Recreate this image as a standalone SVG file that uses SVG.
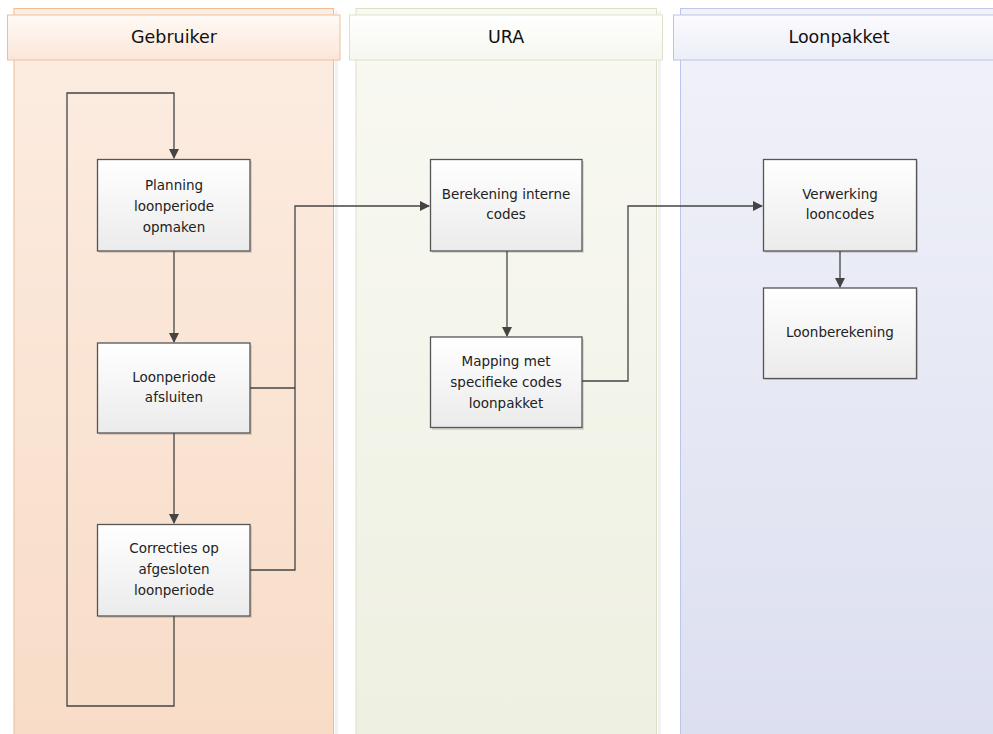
<svg xmlns="http://www.w3.org/2000/svg" width="993" height="734" viewBox="0 0 993 734">
<defs>
<linearGradient id="g1" x1="0" y1="0" x2="0" y2="1"><stop offset="0" stop-color="#fcede2"/><stop offset="1" stop-color="#f8dcc7"/></linearGradient>
<linearGradient id="g2" x1="0" y1="0" x2="0" y2="1"><stop offset="0" stop-color="#f9f9f3"/><stop offset="1" stop-color="#eef0e1"/></linearGradient>
<linearGradient id="g3" x1="0" y1="0" x2="0" y2="1"><stop offset="0" stop-color="#f1f2f9"/><stop offset="1" stop-color="#dcdff0"/></linearGradient>
<linearGradient id="h1" x1="0" y1="0" x2="0" y2="1"><stop offset="0" stop-color="#fffaf6"/><stop offset="1" stop-color="#fbe6d8"/></linearGradient>
<linearGradient id="h2" x1="0" y1="0" x2="0" y2="1"><stop offset="0" stop-color="#ffffff"/><stop offset="1" stop-color="#f6f7ef"/></linearGradient>
<linearGradient id="h3" x1="0" y1="0" x2="0" y2="1"><stop offset="0" stop-color="#fbfbfe"/><stop offset="1" stop-color="#eceef8"/></linearGradient>
<linearGradient id="box" x1="0" y1="0" x2="0" y2="1"><stop offset="0" stop-color="#ffffff"/><stop offset="1" stop-color="#ebebeb"/></linearGradient>
<marker id="arr" markerWidth="10" markerHeight="10" refX="9" refY="5" orient="auto" markerUnits="userSpaceOnUse"><path d="M0,0 L10,5 L0,10 Z" fill="#444"/></marker>
</defs>
<style>
.node rect.b{fill:url(#box);stroke:#555;stroke-width:1.3}
.node rect.s{fill:#000;opacity:0.12}
.node text,.lane text{font-family:"DejaVu Sans","Liberation Sans",sans-serif;font-size:13.5px;fill:#222;text-anchor:middle}
.lane text{font-size:17.5px;fill:#111}
.conn path{fill:none;stroke:#444;stroke-width:1.3}
</style>
<rect width="993" height="734" fill="#fff"/>
<g id="lane-gebruiker" class="lane">
<rect x="335" y="11" width="3" height="723" fill="#000" opacity="0.05"/>
<rect x="14" y="8.5" width="319.5" height="730" fill="url(#g1)" stroke="#eebb98" stroke-width="1"/>
<rect x="7.5" y="15" width="332.5" height="45" fill="url(#h1)" stroke="#efbf9c" stroke-width="1"/>
<text x="174" y="43">Gebruiker</text>
</g>
<g id="lane-ura" class="lane">
<rect x="658" y="11" width="3" height="723" fill="#000" opacity="0.05"/>
<rect x="356" y="8.5" width="300.5" height="730" fill="url(#g2)" stroke="#dce2c6" stroke-width="1"/>
<rect x="349.5" y="15" width="313" height="45" fill="url(#h2)" stroke="#dde3c8" stroke-width="1"/>
<text x="506" y="43">URA</text>
</g>
<g id="lane-loonpakket" class="lane">
<rect x="680.5" y="8.5" width="320" height="730" fill="url(#g3)" stroke="#bec5ea" stroke-width="1"/>
<rect x="673.5" y="15" width="330" height="45" fill="url(#h3)" stroke="#bcc3ea" stroke-width="1"/>
<text x="839" y="43">Loonpakket</text>
</g>
<g id="connectors" class="conn">
<path d="M174,616 V706 H67 V93 H174 V158" marker-end="url(#arr)"/>
<path d="M174,251 V342" marker-end="url(#arr)"/>
<path d="M174,433 V523" marker-end="url(#arr)"/>
<path d="M250,388 H295"/>
<path d="M250,570 H295 V206 H429" marker-end="url(#arr)"/>
<path d="M507,251 V336" marker-end="url(#arr)"/>
<path d="M582,381 H628 V206 H762" marker-end="url(#arr)"/>
<path d="M840,251 V287" marker-end="url(#arr)"/>
</g>
<g id="node-planning" class="node">
<rect class="s" x="99" y="161" width="153" height="92"/>
<rect class="b" x="97.5" y="159.5" width="152.5" height="91.5"/>
<text x="174" y="190">Planning</text><text x="174" y="211">loonperiode</text><text x="174" y="232">opmaken</text>
</g>
<g id="node-afsluiten" class="node">
<rect class="s" x="99" y="345" width="153" height="90"/>
<rect class="b" x="97.5" y="343" width="152.5" height="90"/>
<text x="174" y="382">Loonperiode</text><text x="174" y="402">afsluiten</text>
</g>
<g id="node-correcties" class="node">
<rect class="s" x="99" y="526" width="153" height="92"/>
<rect class="b" x="97.5" y="524.5" width="152.5" height="91.5"/>
<text x="174" y="553">Correcties op</text><text x="174" y="574">afgesloten</text><text x="174" y="595">loonperiode</text>
</g>
<g id="node-berekening" class="node">
<rect class="s" x="432" y="161" width="152" height="92"/>
<rect class="b" x="430.5" y="159.5" width="151.5" height="91.5"/>
<text x="506" y="199">Berekening interne</text><text x="506" y="219">codes</text>
</g>
<g id="node-mapping" class="node">
<rect class="s" x="432" y="339" width="152" height="91"/>
<rect class="b" x="430.5" y="337" width="151.5" height="90.5"/>
<text x="506" y="366">Mapping met</text><text x="506" y="387">specifieke codes</text><text x="506" y="408">loonpakket</text>
</g>
<g id="node-verwerking" class="node">
<rect class="s" x="765" y="161" width="153" height="92"/>
<rect class="b" x="763.5" y="159.5" width="153" height="91.5"/>
<text x="840" y="199">Verwerking</text><text x="840" y="219">looncodes</text>
</g>
<g id="node-loonberekening" class="node">
<rect class="s" x="765" y="290" width="153" height="90"/>
<rect class="b" x="763.5" y="288" width="153" height="90.5"/>
<text x="840" y="337">Loonberekening</text>
</g>
</svg>
